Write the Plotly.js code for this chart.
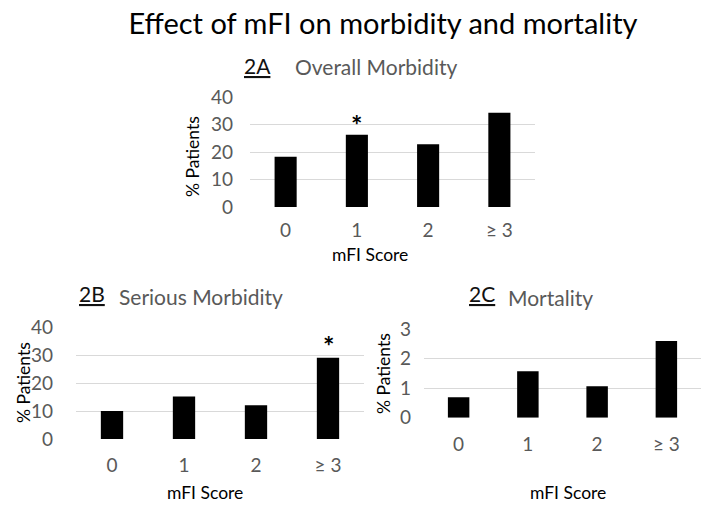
<!DOCTYPE html>
<html><head><meta charset="utf-8">
<script src="https://cdn.plot.ly/plotly-3.0.1.min.js"></script>
<style>html,body{margin:0;padding:0;background:#fff}#chart{width:712px;height:510px}</style>
</head><body><div id="chart"></div>
<script>
const categories = ["0", "1", "2", "\u2265 3"];
const overallMorbidity = [18.3, 26.3, 22.8, 34.3];
const seriousMorbidity = [10.0, 15.2, 12.1, 29.1];
const mortality = [0.69, 1.58, 1.07, 2.6];
const mainTitle = "Effect of mFI on morbidity and mortality";
const panelLabels = ["2A", "2B", "2C"];
const panelTitles = ["Overall Morbidity", "Serious Morbidity", "Mortality"];
const xTitle = "mFI Score";
const yTitle = "% Patients";

const FONT = "Lato, 'Open Sans', sans-serif";
const GRAY = "#595959";

function bar(y, xa, ya) {
  return {type: "bar", x: categories, y: y, xaxis: xa, yaxis: ya,
    marker: {color: "#000"}, hoverinfo: "x+y", showlegend: false};
}
const traces = [
  bar(overallMorbidity, "x", "y"),
  bar(seriousMorbidity, "x2", "y2"),
  bar(mortality, "x3", "y3")
];

function xax(dom, anchor, standoff) {
  return {domain: dom, anchor: anchor, type: "category", showgrid: false, zeroline: false,
    showline: false, ticks: "", ticklabelstandoff: standoff,
    tickfont: {family: FONT, size: 19, color: GRAY}, fixedrange: true};
}
function yax(dom, anchor, range, dtick, standoff) {
  return {domain: dom, anchor: anchor, range: range, dtick: dtick, showgrid: true,
    gridcolor: "#d9d9d9", gridwidth: 1, zeroline: false, showline: false, ticks: "",
    ticklabelstandoff: standoff, tickfont: {family: FONT, size: 19, color: GRAY}, fixedrange: true};
}

const ann = [];
function txt(text, x, y, size, color, extra) {
  ann.push(Object.assign({text: text, x: x / 712, y: 1 - y / 510, xref: "paper", yref: "paper",
    showarrow: false, xanchor: "center", yanchor: "middle",
    font: {family: FONT, size: size, color: color}}, extra || {}));
}
// Panel titles
txt("<u>" + panelLabels[0] + "</u>", 257, 65, 21, "#111");
txt(panelTitles[0], 376, 67, 21, GRAY);
txt("<u>" + panelLabels[1] + "</u>", 92, 293, 21, "#111");
txt(panelTitles[1], 201, 296, 21, GRAY);
txt("<u>" + panelLabels[2] + "</u>", 482, 293, 21, "#111");
txt(panelTitles[2], 550, 297, 21, GRAY);
// Axis titles
txt(xTitle, 370, 254, 17.5, "#000");
txt(xTitle, 205, 492, 17.5, "#000");
txt(xTitle, 568, 492, 17.5, "#000");
txt(yTitle, 192, 157, 17.5, "#000", {textangle: -90});
txt(yTitle, 23, 383, 17.5, "#000", {textangle: -90});
txt(yTitle, 383, 373, 17.5, "#000", {textangle: -90});
// Significance asterisks
ann.push({text: "<b>*</b>", x: categories[1], y: overallMorbidity[1], xref: "x", yref: "y",
  showarrow: false, yanchor: "bottom", yshift: -8, font: {family: FONT, size: 27, color: "#000"}});
ann.push({text: "<b>*</b>", x: categories[3], y: seriousMorbidity[3], xref: "x2", yref: "y2",
  showarrow: false, yanchor: "bottom", yshift: -6, font: {family: FONT, size: 27, color: "#000"}});

const layout = {
  width: 712, height: 510, margin: {l: 0, r: 0, t: 0, b: 0},
  paper_bgcolor: "#fff", plot_bgcolor: "#fff", bargap: 0.69,
  title: {text: mainTitle, x: 383 / 712, xanchor: "center", y: 1 - 24 / 510, yanchor: "middle",
    font: {family: FONT, size: 29, color: "#000"}},
  xaxis: xax([250 / 712, 535 / 712], "y", 10),
  yaxis: yax([1 - 207 / 510, 1 - 97 / 510], "x", [0, 40], 10, 16),
  xaxis2: xax([76 / 712, 364 / 712], "y2", 13),
  yaxis2: yax([1 - 439 / 510, 1 - 327.3 / 510], "x2", [0, 40], 10, 22),
  xaxis3: xax([424 / 712, 701 / 712], "y3", 13),
  yaxis3: yax([1 - 417.7 / 510, 1 - 329.3 / 510], "x3", [0, 3], 1, 12),
  annotations: ann
};
Plotly.newPlot("chart", traces, layout, {displayModeBar: false, staticPlot: true});
</script></body></html>
